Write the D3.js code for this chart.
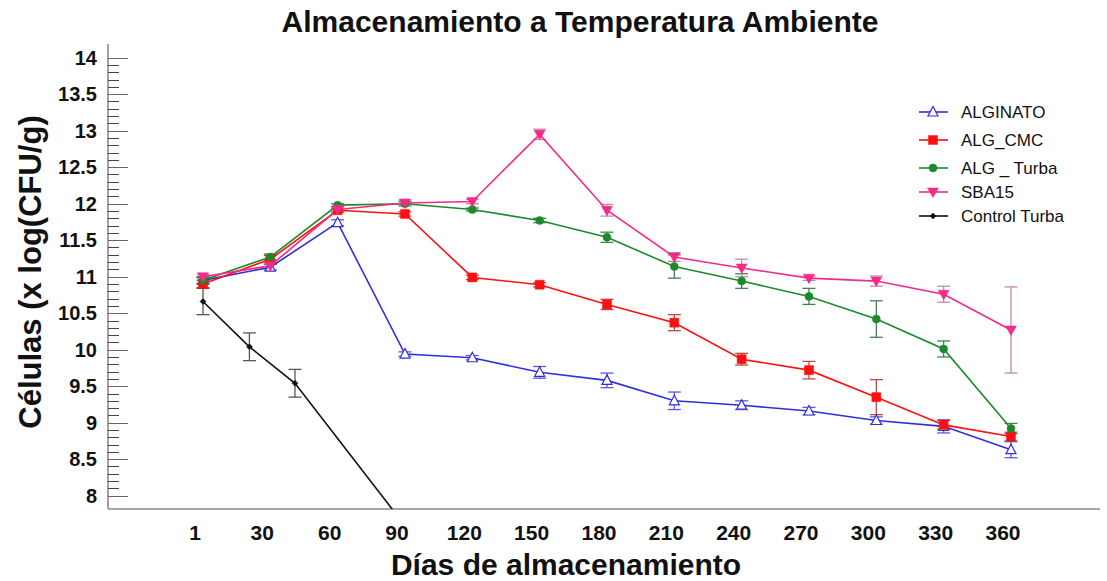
<!DOCTYPE html>
<html>
<head>
<meta charset="utf-8">
<script src="https://cdn.jsdelivr.net/npm/d3@7"></script>
<style>
  body { margin: 0; background: #fff; }
  svg { display: block; }
  text { font-family: "Liberation Sans", Arial, Helvetica, sans-serif; }
</style>
</head>
<body>
<svg id="chart" width="1107" height="581"></svg>
<script>
// Storage days (x) and tick labels
const days = [1, 30, 60, 90, 120, 150, 180, 210, 240, 270, 300, 330, 360];
const dayLabels = ["1", "30", "60", "90", "120", "150", "180", "210", "240", "270", "300", "330", "360"];

// Cell counts, log(CFU/g), with standard deviations
const alginato    = [10.95, 11.13, 11.74, 9.94, 9.89, 9.69, 9.58, 9.30, 9.24, 9.16, 9.03, 8.95, 8.63];
const alginatoErr = [0.04, 0.04, 0.04, 0.03, 0.03, 0.08, 0.10, 0.12, 0.06, 0.05, 0.05, 0.09, 0.11];

const algCmc    = [10.90, 11.24, 11.91, 11.86, 10.99, 10.89, 10.62, 10.37, 9.87, 9.72, 9.35, 8.97, 8.81];
const algCmcErr = [0.05, 0.05, 0.03, 0.03, 0.03, 0.03, 0.07, 0.11, 0.08, 0.12, 0.24, 0.06, 0.06];

const algTurba    = [10.95, 11.27, 11.98, 12.00, 11.92, 11.77, 11.54, 11.14, 10.94, 10.73, 10.42, 10.01, 8.92];
const algTurbaErr = [0.05, 0.04, 0.02, 0.03, 0.02, 0.03, 0.07, 0.16, 0.10, 0.11, 0.25, 0.11, 0.07];

const sba15    = [11.00, 11.15, 11.92, 12.01, 12.03, 12.95, 11.91, 11.27, 11.12, 10.98, 10.94, 10.76, 10.27];
const sba15Err = [0.03, 0.05, 0.03, 0.04, 0.03, 0.07, 0.08, 0.06, 0.12, 0.03, 0.07, 0.11, 0.59];

const controlDays = [1, 21, 41, 90];
const controlTurba = [10.66, 10.04, 9.54, 7.59];
const controlErr = [0.18, 0.19, 0.19, 0];

const yTicks = [8, 8.5, 9, 9.5, 10, 10.5, 11, 11.5, 12, 12.5, 13, 13.5, 14];

const series = [
  { name: "ALGINATO",      x: days, y: alginato, err: alginatoErr, color: "#2f2fde", errColor: "#5a5ae0", symbol: "triUp" },
  { name: "ALG_CMC",       x: days, y: algCmc,   err: algCmcErr,   color: "#ff1010", errColor: "#b84a4a", symbol: "square" },
  { name: "ALG _ Turba",   x: days, y: algTurba, err: algTurbaErr, color: "#1b8a2a", errColor: "#4a7f50", symbol: "circle" },
  { name: "SBA15",         x: days, y: sba15,    err: sba15Err,    color: "#f42a88", errColor: "#c08ca8", symbol: "triDown" },
  { name: "Control Turba", x: controlDays, y: controlTurba, err: controlErr, color: "#111111", errColor: "#555555", symbol: "diamond" }
];

const svg = d3.select("#chart");
const plotLeft = 108, plotRight = 1100, plotTop = 44, plotBottom = 509;

// x: day 1 at the first slot, then evenly spaced 30-day slots
const x = d3.scaleLinear().domain([1, 30, 360]).range([203, 270.3, 1011]);
const y = d3.scaleLinear().domain([7.8, 14.2]).range([510.3, 43.1]);

// Title and axis titles
svg.append("text")
  .attr("x", 580).attr("y", 32)
  .attr("text-anchor", "middle")
  .attr("font-size", 30).attr("font-weight", "bold").attr("fill", "#111")
  .text("Almacenamiento a Temperatura Ambiente");

svg.append("text")
  .attr("transform", "translate(41,272) rotate(-90)")
  .attr("text-anchor", "middle")
  .attr("font-size", 31).attr("font-weight", "bold").attr("fill", "#111")
  .text("Células (x log(CFU/g)");

svg.append("text")
  .attr("x", 566).attr("y", 575)
  .attr("text-anchor", "middle")
  .attr("font-size", 30).attr("font-weight", "bold").attr("fill", "#111")
  .text("Días de almacenamiento");

// Axis lines
svg.append("line").attr("x1", plotLeft).attr("x2", plotLeft).attr("y1", plotTop).attr("y2", plotBottom)
  .attr("stroke", "#444").attr("stroke-width", 1);
svg.append("line").attr("x1", plotLeft).attr("x2", plotRight).attr("y1", plotBottom).attr("y2", plotBottom)
  .attr("stroke", "#888").attr("stroke-width", 1.5);

// Y ticks: inward, major every 0.5 and minor every 0.1
const minor = d3.range(80, 141).map(v => v / 10).filter(v => Math.abs(v * 2 - Math.round(v * 2)) > 1e-6);
svg.append("g").selectAll("line").data(minor).join("line")
  .attr("x1", plotLeft).attr("x2", plotLeft + 11)
  .attr("y1", d => Math.round(y(d)) + 0.5).attr("y2", d => Math.round(y(d)) + 0.5)
  .attr("stroke", "#444").attr("stroke-width", 1);
svg.append("g").selectAll("line").data(yTicks).join("line")
  .attr("x1", plotLeft).attr("x2", plotLeft + 20)
  .attr("y1", d => Math.round(y(d)) + 0.5).attr("y2", d => Math.round(y(d)) + 0.5)
  .attr("stroke", "#666").attr("stroke-width", 1);
svg.append("g").selectAll("text").data(yTicks).join("text")
  .attr("x", 97).attr("y", d => y(d)).attr("dy", "0.36em")
  .attr("text-anchor", "end")
  .attr("font-size", 20).attr("font-weight", "bold").attr("fill", "#111")
  .text(d => d3.format("~g")(d));

// X tick labels (no tick marks)
svg.append("g").selectAll("text").data(days).join("text")
  .attr("x", d => x(d) - 8).attr("y", 540)
  .attr("text-anchor", "middle")
  .attr("font-size", 21).attr("font-weight", "bold").attr("fill", "#111")
  .text((d, i) => dayLabels[i]);

// Clip to plotting area
svg.append("clipPath").attr("id", "plotClip")
  .append("rect").attr("x", plotLeft).attr("y", plotTop - 10)
  .attr("width", plotRight - plotLeft).attr("height", plotBottom - plotTop + 10);

const plot = svg.append("g").attr("clip-path", "url(#plotClip)");

function symbolPath(sym) {
  switch (sym) {
    case "triUp": return "M0,-5.5L5,4L-5,4Z";
    case "triDown": return "M0,5.5L5.5,-4L-5.5,-4Z";
    case "square": return "M-4.5,-4.5H4.5V4.5H-4.5Z";
    case "circle": return d3.symbol(d3.symbolCircle, 50)();
    case "diamond": return "M0,-3L3,0L0,3L-3,0Z";
  }
}

// Error bars
series.forEach(s => {
  const pts = s.x.map((d, i) => ({ x: d, y: s.y[i], e: s.err[i] })).filter(p => p.e > 0);
  const g = plot.append("g").attr("stroke", s.errColor).attr("stroke-width", 1.3).attr("fill", "none");
  g.selectAll(".v").data(pts).join("line")
    .attr("x1", p => x(p.x)).attr("x2", p => x(p.x))
    .attr("y1", p => y(p.y - p.e)).attr("y2", p => y(p.y + p.e));
  g.selectAll(".t").data(pts).join("line")
    .attr("x1", p => x(p.x) - 6.5).attr("x2", p => x(p.x) + 6.5)
    .attr("y1", p => y(p.y + p.e)).attr("y2", p => y(p.y + p.e));
  g.selectAll(".b").data(pts).join("line")
    .attr("x1", p => x(p.x) - 6.5).attr("x2", p => x(p.x) + 6.5)
    .attr("y1", p => y(p.y - p.e)).attr("y2", p => y(p.y - p.e));
});

// Lines
const line = d3.line().x(p => x(p[0])).y(p => y(p[1]));
series.forEach(s => {
  plot.append("path")
    .datum(s.x.map((d, i) => [d, s.y[i]]))
    .attr("d", line)
    .attr("fill", "none").attr("stroke", s.color).attr("stroke-width", 1.6);
});

// Markers
series.forEach(s => {
  const hollow = s.symbol === "triUp";
  plot.append("g").selectAll("path").data(s.x.map((d, i) => [d, s.y[i]])).join("path")
    .attr("transform", p => `translate(${x(p[0])},${y(p[1])})`)
    .attr("d", symbolPath(s.symbol))
    .attr("fill", hollow ? "#fff" : s.color)
    .attr("stroke", s.color).attr("stroke-width", hollow ? 1.2 : 0.5);
});

// Legend
const legendY = [112, 140, 168, 192, 216];
const lg = svg.append("g");
series.forEach((s, i) => {
  const row = lg.append("g").attr("transform", `translate(0,${legendY[i]})`);
  row.append("line").attr("x1", 919).attr("x2", 948).attr("y1", 0).attr("y2", 0)
    .attr("stroke", s.color).attr("stroke-width", 1.6);
  const hollow = s.symbol === "triUp";
  row.append("path").attr("transform", "translate(933,0)")
    .attr("d", symbolPath(s.symbol))
    .attr("fill", hollow ? "#fff" : s.color)
    .attr("stroke", s.color).attr("stroke-width", hollow ? 1.2 : 0.5);
  row.append("text").attr("x", 961).attr("y", 0).attr("dy", "0.36em")
    .attr("font-size", 17).attr("fill", "#111")
    .text(s.name);
});
</script>
</body>
</html>
